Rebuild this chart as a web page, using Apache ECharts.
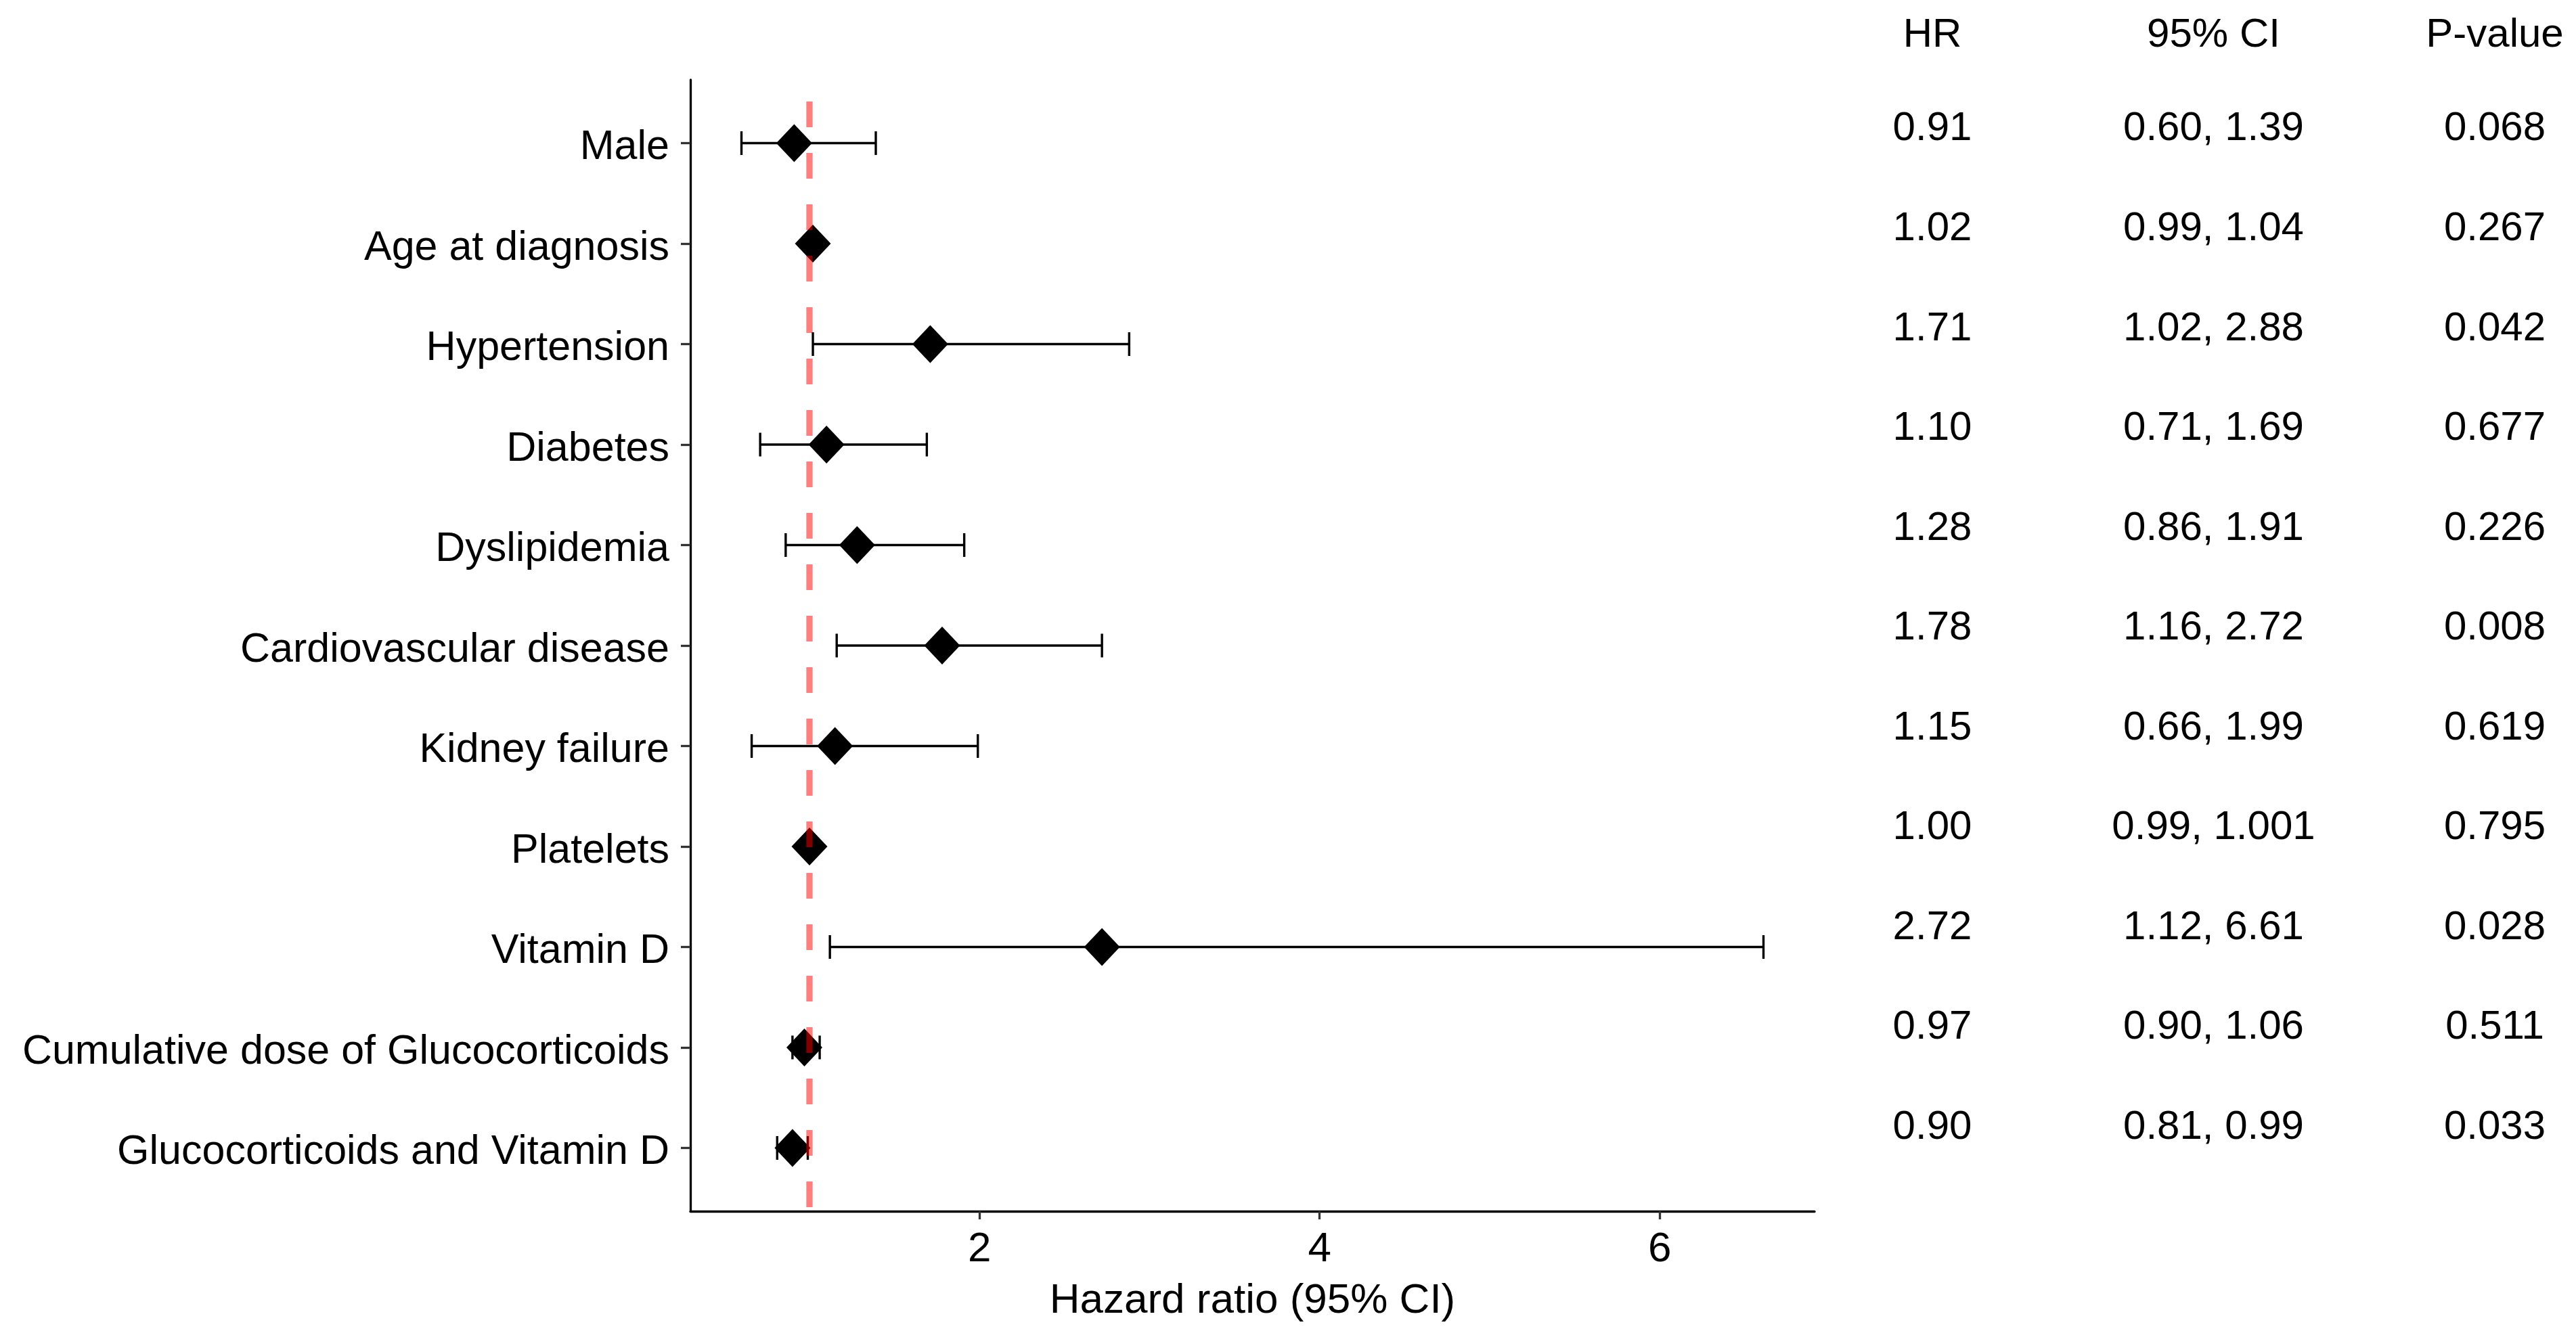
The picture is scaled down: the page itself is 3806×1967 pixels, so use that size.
<!DOCTYPE html>
<html>
<head>
<meta charset="utf-8">
<script src="https://cdn.jsdelivr.net/npm/echarts@6/dist/echarts.min.js"></script>
<style>
html,body{margin:0;padding:0;background:#ffffff;}
#chart{width:3806px;height:1967px;}
</style>
</head>
<body>
<div id="chart"></div>
<script>
// ---- data ----
const categories = ['Male', 'Age at diagnosis', 'Hypertension', 'Diabetes', 'Dyslipidemia',
  'Cardiovascular disease', 'Kidney failure', 'Platelets', 'Vitamin D',
  'Cumulative dose of Glucocorticoids', 'Glucocorticoids and Vitamin D'];
const hr     = [0.91, 1.02, 1.71, 1.10, 1.28, 1.78, 1.15, 1.00, 2.72, 0.97, 0.90];
const ciLow  = [0.60, 0.99, 1.02, 0.71, 0.86, 1.16, 0.66, 0.99, 1.12, 0.90, 0.81];
const ciHigh = [1.39, 1.04, 2.88, 1.69, 1.91, 2.72, 1.99, 1.001, 6.61, 1.06, 0.99];
const hrText = ['0.91', '1.02', '1.71', '1.10', '1.28', '1.78', '1.15', '1.00', '2.72', '0.97', '0.90'];
const ciText = ['0.60, 1.39', '0.99, 1.04', '1.02, 2.88', '0.71, 1.69', '0.86, 1.91', '1.16, 2.72',
  '0.66, 1.99', '0.99, 1.001', '1.12, 6.61', '0.90, 1.06', '0.81, 0.99'];
const pText  = ['0.068', '0.267', '0.042', '0.677', '0.226', '0.008', '0.619', '0.795', '0.028', '0.511', '0.033'];
const tableHeaders = ['HR', '95% CI', 'P-value'];
const xTicks = [2, 4, 6];
const refValue = 1;
const xTitle = 'Hazard ratio (95% CI)';

// ---- derived ----
const FONT = "'Liberation Sans', Arial, sans-serif";
const rowPos = categories.map((c, i) => i + 1);
const Y_MIN = 0.37, Y_MAX = 11.63;
const X_MIN = 0.2995, X_MAX = 6.9105;
const tableCols = [hrText, ciText, pText];

const errData = categories.map((c, i) => [ciLow[i], ciHigh[i], rowPos[i]]);
const pointData = categories.map((c, i) => [hr[i], rowPos[i]]);
const tableData = [];
tableCols.forEach((col, ci) => col.forEach((t, ri) => tableData.push([ci, rowPos[ri], ci, ri])));

const chart = echarts.init(document.getElementById('chart'), null, {renderer: 'canvas'});

const option = {
  backgroundColor: '#ffffff',
  animation: false,
  grid: [
    {left: 1020, right: 1125, top: 118, bottom: 177, containLabel: false},
    {left: 2855, right: 120, top: 98, bottom: 208, containLabel: false}
  ],
  xAxis: [
    {
      gridIndex: 0, type: 'value', min: X_MIN, max: X_MAX,
      name: xTitle, nameLocation: 'middle', nameGap: 102,
      nameTextStyle: {fontFamily: FONT, fontSize: 62, color: '#000'},
      axisLine: {show: true, lineStyle: {color: '#000', width: 3.3}},
      axisTick: {show: true, customValues: xTicks, length: 12, lineStyle: {color: '#333', width: 3.3}},
      axisLabel: {show: true, customValues: xTicks, margin: 26, fontFamily: FONT, fontSize: 62, color: '#000'},
      splitLine: {show: false}
    },
    {
      gridIndex: 1, type: 'category', data: tableHeaders, position: 'top', boundaryGap: false,
      axisLine: {show: false}, axisTick: {show: false}, splitLine: {show: false},
      axisLabel: {show: true, interval: 0, margin: 16, fontFamily: FONT, fontSize: 60, color: '#000'}
    }
  ],
  yAxis: [
    {
      gridIndex: 0, type: 'value', inverse: true, min: Y_MIN, max: Y_MAX,
      axisLine: {show: true, lineStyle: {color: '#000', width: 3.3}},
      axisTick: {show: true, customValues: rowPos, length: 14, lineStyle: {color: '#333', width: 3.3}},
      axisLabel: {
        show: true, customValues: rowPos, margin: 31, fontFamily: FONT, fontSize: 61, color: '#000',
        formatter: v => '{a|' + categories[Math.round(v) - 1] + '}',
        rich: {a: {fontFamily: FONT, fontSize: 61, color: '#000', padding: [14, 0, 0, 0]}}
      },
      splitLine: {show: false}
    },
    {
      gridIndex: 1, type: 'value', inverse: true, min: Y_MIN, max: Y_MAX, show: false
    }
  ],
  series: [
    {
      type: 'custom', xAxisIndex: 0, yAxisIndex: 0, z: 2,
      data: errData,
      encode: {x: [0, 1], y: 2},
      renderItem: function (params, api) {
        const y = api.value(2);
        const a = api.coord([api.value(0), y]);
        const b = api.coord([api.value(1), y]);
        const h = 17.5;
        const st = {stroke: '#000', lineWidth: 3.4};
        return {
          type: 'group',
          children: [
            {type: 'line', shape: {x1: a[0], y1: a[1], x2: b[0], y2: b[1]}, style: st},
            {type: 'line', shape: {x1: a[0], y1: a[1] - h, x2: a[0], y2: a[1] + h}, style: st},
            {type: 'line', shape: {x1: b[0], y1: b[1] - h, x2: b[0], y2: b[1] + h}, style: st}
          ]
        };
      }
    },
    {
      type: 'scatter', xAxisIndex: 0, yAxisIndex: 0, z: 3,
      data: pointData,
      symbol: 'diamond', symbolSize: [53, 56],
      itemStyle: {color: '#000', opacity: 1}
    },
    {
      type: 'custom', xAxisIndex: 0, yAxisIndex: 0, z: 4,
      data: [[refValue]],
      encode: {x: 0},
      renderItem: function (params, api) {
        const t = api.coord([api.value(0), Y_MIN]);
        const b = api.coord([api.value(0), Y_MAX]);
        return {
          type: 'line',
          shape: {x1: t[0], y1: t[1], x2: b[0], y2: b[1]},
          style: {stroke: 'rgba(255,0,0,0.5)', lineWidth: 9.3, lineDash: [38, 38], lineDashOffset: 44}
        };
      }
    },
    {
      type: 'custom', xAxisIndex: 1, yAxisIndex: 1, z: 2,
      data: tableData,
      encode: {x: 0, y: 1},
      renderItem: function (params, api) {
        const p = api.coord([api.value(0), api.value(1)]);
        const text = tableCols[api.value(2)][api.value(3)];
        return {
          type: 'text',
          style: {
            text: text, x: p[0], y: p[1], align: 'center', verticalAlign: 'middle',
            fontFamily: FONT, fontSize: 60, fill: '#000'
          }
        };
      }
    }
  ]
};
chart.setOption(option);
</script>
</body>
</html>
